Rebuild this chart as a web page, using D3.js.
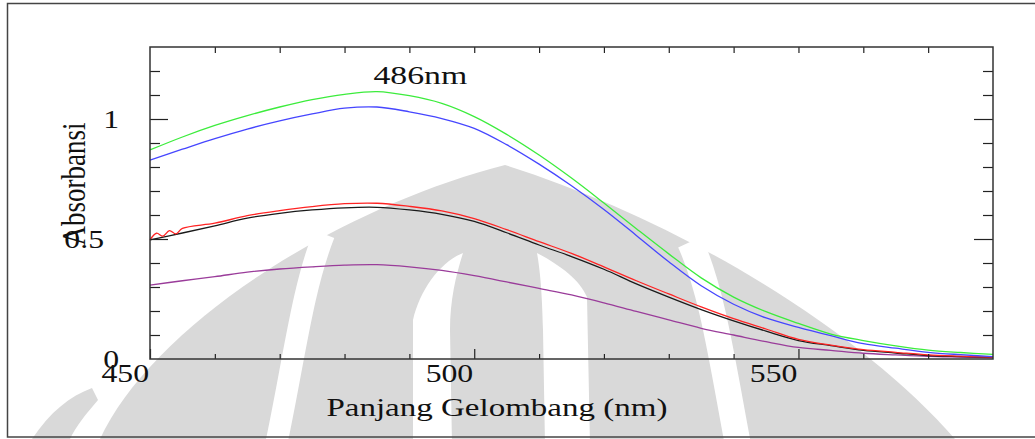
<!DOCTYPE html>
<html>
<head>
<meta charset="utf-8">
<script src="https://cdn.jsdelivr.net/npm/d3@7"></script>
<style>
  html, body { margin: 0; padding: 0; background: #fff; }
  svg { display: block; }
</style>
</head>
<body>
<svg id="chart" width="1035" height="439"></svg>
<script>
// wavelength grid (nm) and absorbance of each sample
const wavelengths = [450, 455, 460, 465, 470, 475, 480, 485, 490, 495, 500, 505, 510, 515,
                     520, 525, 530, 535, 540, 545, 550, 555, 560, 565, 570, 575, 580];
const green  = [0.871, 0.925, 0.973, 1.014, 1.050, 1.081, 1.103, 1.114, 1.097, 1.065, 1.010, 0.936, 0.850, 0.754,
                0.650, 0.543, 0.438, 0.338, 0.258, 0.197, 0.148, 0.104, 0.077, 0.055, 0.037, 0.027, 0.019];
const blue   = [0.829, 0.874, 0.918, 0.958, 0.992, 1.021, 1.045, 1.050, 1.030, 1.002, 0.961, 0.893, 0.812, 0.722,
                0.623, 0.515, 0.405, 0.305, 0.228, 0.171, 0.132, 0.097, 0.064, 0.045, 0.028, 0.018, 0.010];
const red    = [0.496, 0.544, 0.566, 0.597, 0.618, 0.635, 0.647, 0.649, 0.636, 0.617, 0.585, 0.539, 0.489, 0.440,
                0.384, 0.326, 0.271, 0.217, 0.168, 0.125, 0.082, 0.058, 0.039, 0.028, 0.017, 0.012, 0.008];
const black  = [0.496, 0.525, 0.555, 0.587, 0.607, 0.621, 0.630, 0.632, 0.621, 0.603, 0.573, 0.526, 0.475, 0.427,
                0.374, 0.313, 0.258, 0.206, 0.159, 0.116, 0.077, 0.056, 0.036, 0.025, 0.014, 0.010, 0.007];
const purple = [0.308, 0.326, 0.343, 0.362, 0.375, 0.384, 0.391, 0.393, 0.384, 0.369, 0.347, 0.321, 0.294, 0.267,
                0.234, 0.198, 0.163, 0.128, 0.100, 0.072, 0.048, 0.036, 0.024, 0.017, 0.011, 0.008, 0.005];
// noisy start of the red trace
const redNoise = [[451, 0.524], [452, 0.512], [453, 0.535], [454, 0.521]];

const xTicks = [450, 500, 550];
const yTicks = [0, 0.5, 1];
const yTickLabels = ['0', '0.5', '1'];
const peakNm = 486;
const peakLabel = '486nm';
const xTitle = 'Panjang Gelombang (nm)';
const yTitle = 'Absorbansi';

const series = [
    { name: 'purple', values: purple, color: '#9a3c9a' },
    { name: 'black',  values: black,  color: '#1a1a1a' },
    { name: 'red',    values: red,    color: '#ff2424', extra: redNoise },
    { name: 'blue',   values: blue,   color: '#4646ff' },
    { name: 'green',  values: green,  color: '#3cec3c' }
];

const FONT = '"Liberation Serif", "Times New Roman", Tinos, "DejaVu Serif", serif';
const STRETCH = 1.27; // glyphs in the source are wider than tall

const svg = d3.select('#chart')
    .attr('font-family', FONT)
    .style('font-family', FONT);

const x = d3.scaleLinear().domain([450, 580]).range([150, 993]);
const y = d3.scaleLinear().domain([0, 1.3]).range([359, 47]);

// faint logo watermark behind the chart
function drawWatermark() {
    const g = svg.append('g').attr('class', 'watermark');
    const gray = '#d9d9d9';
    g.append('path')
        .attr('d', 'M 100 439 C 150 330, 330 210, 505 165 C 680 220, 860 330, 955 439 Z')
        .attr('fill', gray);
    g.append('path')
        .attr('d', 'M 32 439 C 50 412, 70 396, 92 388 L 98 400 C 86 414, 76 426, 70 439 Z')
        .attr('fill', gray);
    // white gaps
    g.append('path')
        .attr('d', 'M 324 234 C 302 290, 294 360, 276 445')
        .attr('fill', 'none').attr('stroke', '#fff').attr('stroke-width', 22);
    g.append('path')
        .attr('d', 'M 690 242 C 712 290, 722 360, 738 445')
        .attr('fill', 'none').attr('stroke', '#fff').attr('stroke-width', 26);
    g.append('path')
        .attr('d', 'M 413 445 L 413 320 C 420 290, 440 262, 463 253 C 456 275, 450 300, 450 330 L 452 445 Z')
        .attr('fill', '#fff');
    g.append('path')
        .attr('d', 'M 537 253 C 560 265, 580 280, 587 297 L 590 445 L 545 445 L 543 330 C 542 290, 540 270, 537 253 Z')
        .attr('fill', '#fff');
}

drawWatermark();

// outer page frame
svg.append('rect')
    .attr('x', 7.5).attr('y', 3.5)
    .attr('width', 1040).attr('height', 433.5)
    .attr('fill', 'none').attr('stroke', '#444').attr('stroke-width', 1.5);

// curves
const line = d3.line()
    .x(d => x(d[0]))
    .y(d => y(d[1]))
    .curve(d3.curveCatmullRom.alpha(0.5));

const lines = svg.append('g').attr('class', 'curves');
series.forEach(s => {
    let pts = wavelengths.map((w, i) => [w, s.values[i]]);
    if (s.extra) pts = pts.concat(s.extra).sort((a, b) => a[0] - b[0]);
    lines.append('path')
        .attr('d', line(pts))
        .attr('fill', 'none')
        .attr('stroke', s.color)
        .attr('stroke-width', 1.3);
});

// ticks (all pointing inward)
const yMinor = d3.range(1, 13).map(i => i / 10).filter(v => !yTicks.includes(v));
const xMinor = d3.range(460, 580, 10).filter(v => !xTicks.includes(v));

function tickGroup(axis, tx, ty) {
    const g = svg.append('g')
        .attr('transform', `translate(${tx},${ty})`)
        .call(axis);
    g.select('.domain').remove();
    g.selectAll('text').remove();
    g.selectAll('line').attr('stroke', '#222').attr('stroke-width', 1.2);
    return g;
}

tickGroup(d3.axisLeft(y).tickValues(yMinor).tickSize(-10), 150, 0);
tickGroup(d3.axisLeft(y).tickValues([0.5, 1]).tickSize(-18), 150, 0);
tickGroup(d3.axisRight(y).tickValues(yMinor).tickSize(-10), 993, 0);
tickGroup(d3.axisRight(y).tickValues([0.5, 1]).tickSize(-19), 993, 0);
tickGroup(d3.axisBottom(x).tickValues(xMinor).tickSize(-5), 0, 359);
tickGroup(d3.axisBottom(x).tickValues(xTicks).tickSize(-10), 0, 359);
tickGroup(d3.axisTop(x).tickValues(d3.range(460, 580, 10)).tickSize(-6), 0, 47);

// plot frame
svg.append('rect')
    .attr('x', 150).attr('y', 47)
    .attr('width', 843).attr('height', 312)
    .attr('fill', 'none').attr('stroke', '#333').attr('stroke-width', 1.5);

const textStyle = sel => sel
    .attr('font-family', FONT)
    .style('font-family', FONT)
    .attr('fill', '#111');

// tick labels
svg.append('g').selectAll('text')
    .data(xTicks)
    .join('text')
    .call(textStyle)
    .attr('transform', d => `translate(${x(d) - 1},382) scale(${STRETCH},1)`)
    .attr('text-anchor', 'end')
    .attr('font-size', 25)
    .text(d => d);

svg.append('g').selectAll('text')
    .data(yTicks)
    .join('text')
    .call(textStyle)
    .attr('transform', d => `translate(${d === 0.5 ? 104 : 119},${y(d)}) scale(${STRETCH},1)`)
    .attr('text-anchor', 'end')
    .attr('dy', '0.34em')
    .attr('font-size', 25)
    .text((d, i) => yTickLabels[i]);

// axis titles (the source centres the x title left of the plot middle)
svg.append('text')
    .call(textStyle)
    .attr('transform', `translate(${x(503.5)},416) scale(${STRETCH},1)`)
    .attr('text-anchor', 'middle')
    .attr('font-size', 26)
    .text(xTitle);

svg.append('text')
    .call(textStyle)
    .attr('transform', `translate(85,184) scale(${STRETCH},1) rotate(-90)`)
    .attr('text-anchor', 'middle')
    .attr('font-size', 27)
    .text(yTitle);

// peak annotation
svg.append('text')
    .call(textStyle)
    .attr('transform', `translate(${x(peakNm) - 10},84) scale(1.3,1)`)
    .attr('text-anchor', 'start')
    .attr('font-size', 26)
    .text(peakLabel);
</script>
</body>
</html>
